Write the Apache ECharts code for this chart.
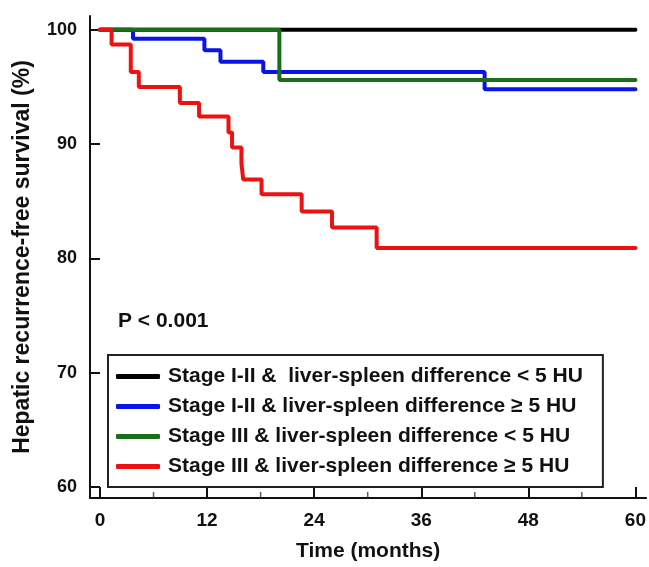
<!DOCTYPE html>
<html>
<head>
<meta charset="utf-8">
<script src="https://cdn.jsdelivr.net/npm/echarts@6/dist/echarts.min.js"></script>
<style>
  html, body { margin: 0; padding: 0; background: #fff; }
  #chart { width: 649px; height: 567px; }
</style>
</head>
<body>
<div id="chart"></div>
<script>
// Kaplan-Meier step data (months, % survival)
const seriesNames = [
  'Stage I-II &  liver-spleen difference < 5 HU',
  'Stage I-II & liver-spleen difference \u2265 5 HU',
  'Stage III & liver-spleen difference < 5 HU',
  'Stage III & liver-spleen difference \u2265 5 HU'
]
const seriesColors = ['#000000', '#0a14e6', '#1a6e1a', '#ee1111']

const blackTime = [0, 60]
const blackSurv = [100, 100]

const blueTime = [0, 3.7, 11.7, 13.5, 18.3, 43.1, 60]
const blueSurv = [100, 99.2, 98.2, 97.2, 96.3, 94.8, 94.8]

const greenTime = [0, 20.1, 60]
const greenSurv = [100, 95.6, 95.6]

const redTime = [0, 1.3, 3.45, 4.35, 8.95, 11.1, 14.4, 14.8, 15.85, 16.05, 18.1, 22.6, 26.0, 31.0, 60]
const redSurv = [100, 98.7, 96.3, 95.0, 93.6, 92.4, 91.0, 89.7, 88.3, 86.9, 85.6, 84.1, 82.7, 80.9, 80.9]

const xTicks = [0, 12, 24, 36, 48, 60]
const xMinorTicks = [6, 18, 30, 42, 54]
const yTicks = [60, 70, 80, 90, 100]

const curves = [
  [blackTime, blackSurv],
  [blueTime, blueSurv],
  [greenTime, greenSurv],
  [redTime, redSurv]
]

const chart = echarts.init(document.getElementById('chart'))
const font = '"Liberation Sans", Arial, sans-serif'
const ink = '#111'

chart.setOption({
  animation: false,
  grid: { left: 90, right: 1, top: 16, bottom: 68 },
  title: {
    text: 'P < 0.001',
    left: 113,
    top: 306,
    textStyle: { fontFamily: font, fontSize: 21, fontWeight: 'bold', color: ink }
  },
  legend: {
    orient: 'vertical',
    left: 108,
    top: 355,
    data: seriesNames,
    icon: 'roundRect',
    itemWidth: 44,
    itemHeight: 5,
    itemGap: 9,
    padding: [11, 20, 10, 8],
    borderColor: '#222',
    borderWidth: 2,
    textStyle: { fontFamily: font, fontSize: 21, fontWeight: 'bold', color: ink, padding: [0, 0, 0, 3] }
  },
  xAxis: {
    type: 'value',
    min: -1.12,
    max: 61.2,
    name: 'Time (months)',
    nameLocation: 'middle',
    nameGap: 43,
    nameTextStyle: { fontFamily: font, fontSize: 21, fontWeight: 'bold', color: ink },
    axisLine: { show: true, onZero: false, lineStyle: { color: ink, width: 2 } },
    axisTick: { show: true, inside: true, length: 11, customValues: xTicks, lineStyle: { color: ink, width: 2 } },
    axisLabel: { customValues: xTicks, margin: 13, fontFamily: font, fontSize: 19, fontWeight: 'bold', color: ink },
    splitLine: { show: false }
  },
  yAxis: {
    type: 'value',
    min: 59.04,
    max: 101.2,
    name: 'Hepatic recurrence-free survival (%)',
    nameLocation: 'middle',
    nameGap: 56,
    nameTextStyle: { fontFamily: font, fontSize: 23, fontWeight: 'bold', color: ink },
    axisLine: { show: true, onZero: false, lineStyle: { color: ink, width: 2 } },
    axisTick: { show: true, inside: true, length: 10, customValues: yTicks, lineStyle: { color: ink, width: 2 } },
    axisLabel: { customValues: yTicks, margin: 13, fontFamily: font, fontSize: 18, fontWeight: 'bold', color: ink },
    splitLine: { show: false }
  },
  series: curves.map(([t, s], i) => ({
    name: seriesNames[i],
    type: 'line',
    step: 'end',
    symbol: 'none',
    data: t.map((v, j) => [v, s[j]]),
    lineStyle: { color: seriesColors[i], width: 4, cap: 'round' },
    itemStyle: { color: seriesColors[i] },
    z: 2 + i
  })).concat([{
    // minor ticks on the time axis
    type: 'scatter',
    silent: true,
    symbol: 'rect',
    symbolSize: [1.5, 6],
    symbolOffset: [0, -3],
    itemStyle: { color: '#333' },
    data: xMinorTicks.map(v => [v, 59.04]),
    z: 1
  }])
})
</script>
</body>
</html>
